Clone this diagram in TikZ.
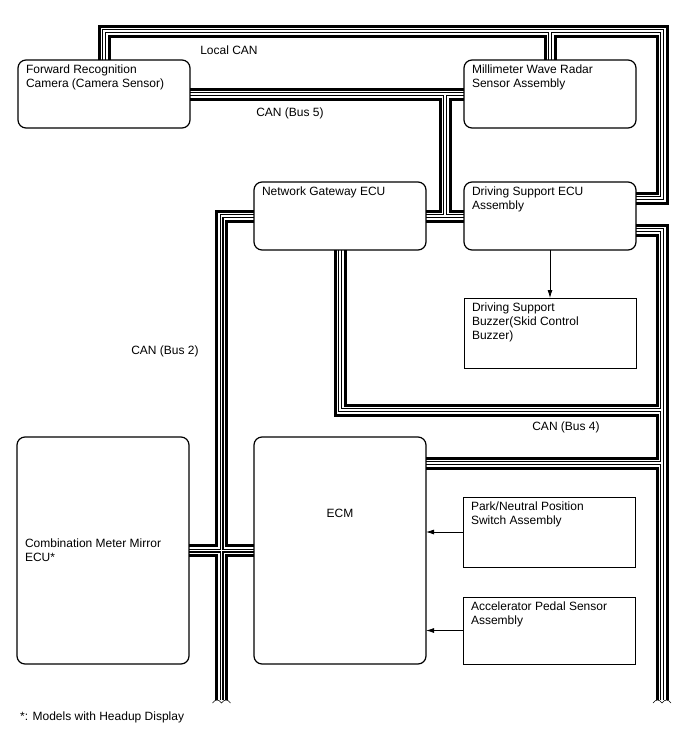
\documentclass[tikz,border=0pt]{standalone}
\usepackage{fontspec}
\setmainfont{Liberation Sans}
\usetikzlibrary{arrows.meta,positioning,calc,backgrounds}

\newcommand{\boxtxt}[3][t]{\parbox[c][#2][#1]{156pt}{\raggedright #3}}

\begin{document}
\begin{tikzpicture}[x=1pt, y=-1pt, node distance=38pt and 38pt,
    every node/.style={font=\fontsize{12}{14}\selectfont},
    box/.style={draw, rectangle, rounded corners=8pt, line width=1.2pt, inner sep=0pt, outer sep=0pt, minimum width=172pt, minimum height=68pt},
    sqbox/.style={box, sharp corners, line width=0.9pt},
    bus/.style={line width=1.5pt, white, preaction={draw, black, line width=13pt}, preaction={draw, white, line width=7pt}, preaction={draw, black, line width=4pt}},
    arr/.style={-{Latex[length=8pt,width=5pt]}, line width=0.8pt},
    brk/.style={line width=0.6pt}]

    \useasboundingbox (0,0) rectangle (688,755);

    % units
    \node[box, anchor=north west] (cam) at (18,60) {\boxtxt{58pt}{Forward Recognition\\Camera (Camera Sensor)}};
    \node[box, right=274pt of cam] (mmw) {\boxtxt{58pt}{Millimeter Wave Radar\\Sensor Assembly}};
    \node[box, below=54pt of mmw] (dse) {\boxtxt{58pt}{Driving Support ECU\\Assembly}};
    \node[box, left=38pt of dse] (gw) {\boxtxt{58pt}{Network Gateway ECU}};
    \node[sqbox, minimum height=70pt, below=48pt of dse] (buz) {\boxtxt{60pt}{Driving Support\\Buzzer(Skid Control\\Buzzer)}};

    \node[box, minimum height=227pt, anchor=north west] (ecm) at (254,437) {\boxtxt{217pt}{\centering\vspace*{67pt}ECM}};
    \node[box, minimum height=227pt, left=65pt of ecm] (cmm) {\boxtxt[c]{217pt}{Combination Meter Mirror\\ECU*}};
    \node[sqbox, minimum height=70pt, anchor=north west] (pnp) at (463,497) {\boxtxt{60pt}{Park/Neutral Position\\Switch Assembly}};
    \node[sqbox, minimum height=67pt, below=30pt of pnp] (aps) {\boxtxt{57pt}{Accelerator Pedal Sensor\\Assembly}};

    % bus labels
    \node (lbllocal) at (229,50) {Local CAN};
    \node (lblbus5) at (290,113) {CAN (Bus 5)};
    \node (lblbus2) at (165,351) {CAN (Bus 2)};
    \node (lblbus4) at (566,427) {CAN (Bus 4)};
    \node[anchor=west, inner sep=0pt] (note) at (20,717) {*: Models with Headup Display};

    % bends and ends of the buses
    \coordinate (lcan) at (662,31);
    \coordinate (dseL) at ([yshift=18pt]dse.east);
    \coordinate (dseR) at ([yshift=-14pt]dse.east);
    \coordinate (ecmR) at ([yshift=-26pt]ecm.north east);
    \coordinate (gwdse) at ($(gw.east)!0.5!(dse.west)$);
    \coordinate (cross) at ($(cmm.east)!0.5!(ecm.west)$);
    \coordinate (b4) at (0,410);
    \coordinate (bot) at (0,700);
    \coordinate (end2) at (cross |- bot);
    \coordinate (end4) at (lcan |- bot);

    \begin{scope}[on background layer]
        \fill[white] (0,0) rectangle (688,755);
        % Local CAN
        \draw[bus] (cam.north) -- (cam.north |- lcan) -- (lcan) -- (lcan |- dseL) -- (dseL)
            (mmw.north) -- (mmw.north |- lcan);
        % CAN (Bus 5)
        \draw[bus] (cam.east) -- (mmw.west)
            (gwdse) -- (gwdse |- cam.east)
            (gw.east) -- (dse.west);
        % CAN (Bus 2)
        \draw[bus] (gw.west) -- (cross |- gw.west) -- (end2)
            (cmm.east) -- (ecm.west);
        % CAN (Bus 4)
        \draw[bus] (gw.south) -- (gw.south |- b4) -- (lcan |- b4)
            (dseR) -- (lcan |- dseR) -- (end4)
            (ecmR) -- (lcan |- ecmR);
    \end{scope}

    \draw[brk] ($(end2)+(-9,3)$) .. controls ($(end2)+(-6,-1)$) and ($(end2)+(-3,-1)$) .. ($(end2)+(0,3)$)
        .. controls ($(end2)+(3,-1)$) and ($(end2)+(6,-1)$) .. ($(end2)+(9,3)$);
    \draw[brk] ($(end4)+(-9,3)$) .. controls ($(end4)+(-6,-1)$) and ($(end4)+(-3,-1)$) .. ($(end4)+(0,3)$)
        .. controls ($(end4)+(3,-1)$) and ($(end4)+(6,-1)$) .. ($(end4)+(9,3)$);

    \draw[arr] (dse.south) -- (buz.north);
    \draw[arr] (pnp.west) -- (pnp.west -| ecm.east);
    \draw[arr] (aps.west) -- (aps.west -| ecm.east);
\end{tikzpicture}
\end{document}
